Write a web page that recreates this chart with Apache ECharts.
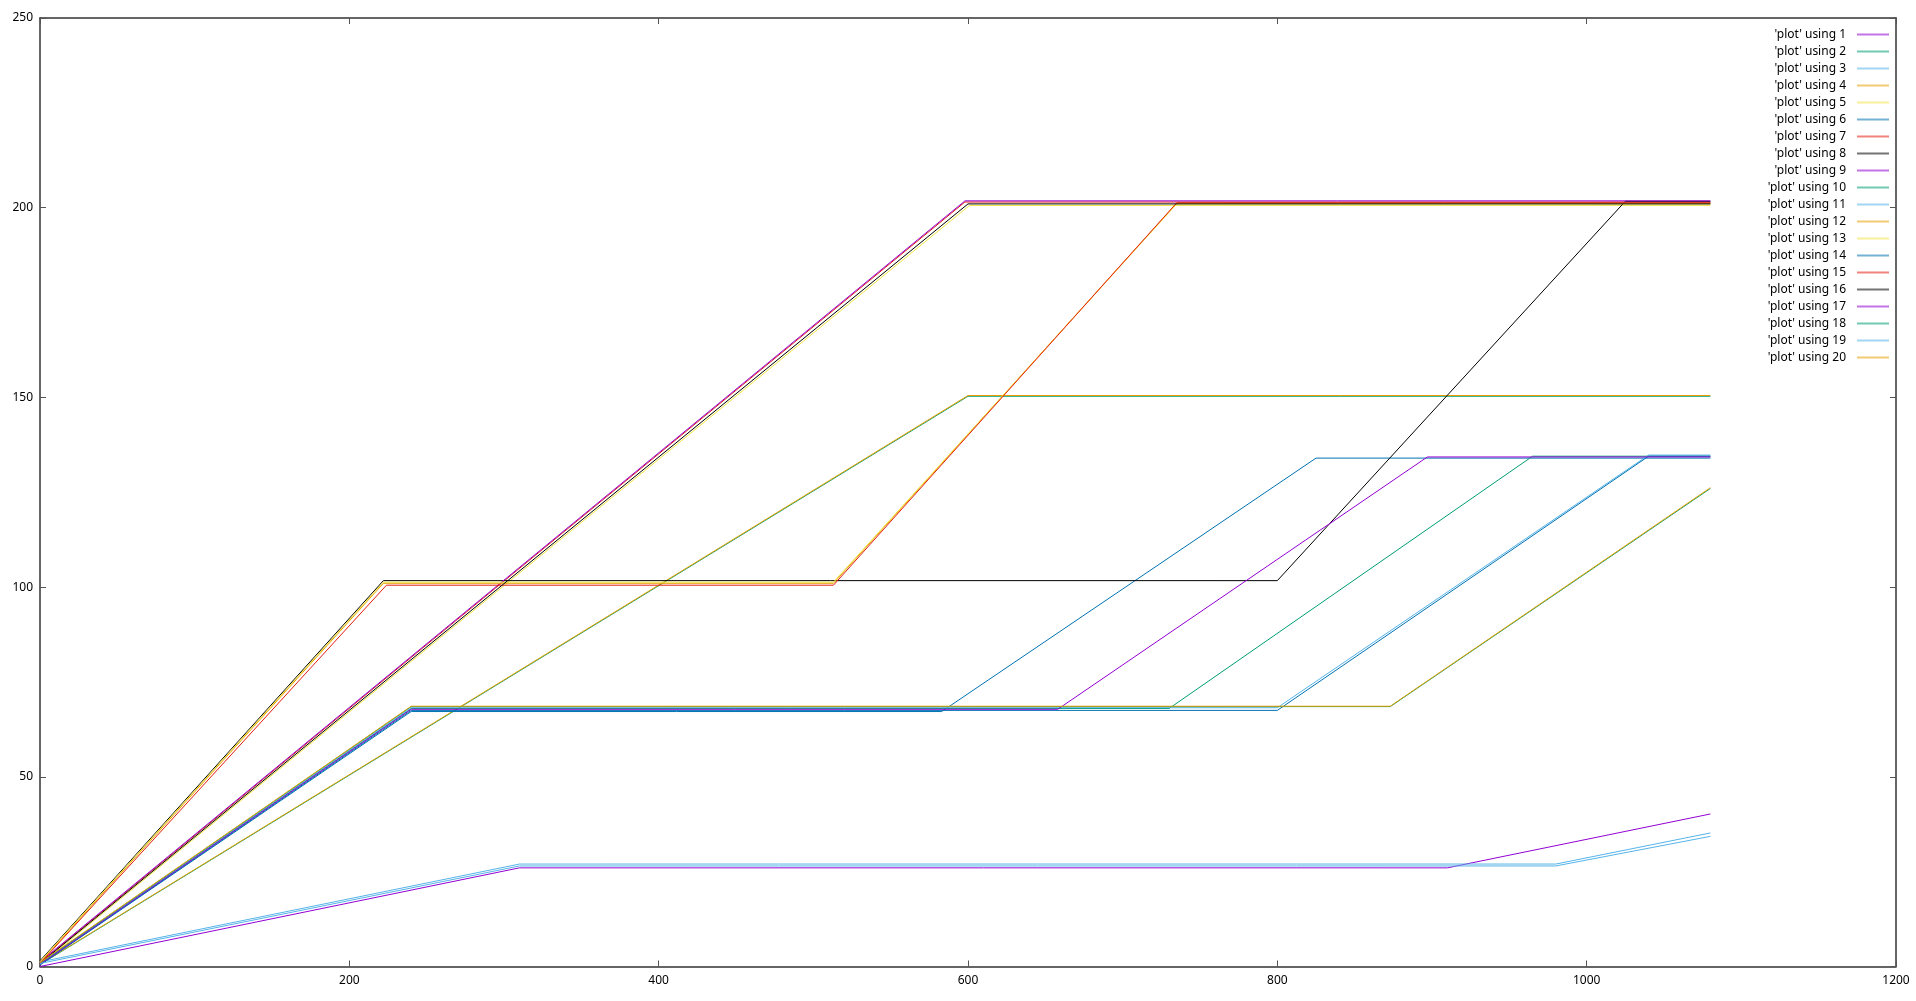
<!DOCTYPE html>
<html>
<head>
<meta charset="utf-8">
<script src="https://cdn.jsdelivr.net/npm/echarts@6/dist/echarts.min.js"></script>
<style>html,body{margin:0;padding:0;background:#fff;}#c{width:1916px;height:1001px;}</style>
</head>
<body>
<div id="c"></div>
<script>
// Tick settings
var xTicks = {min: 0, max: 1200, interval: 200};
var yTicks = {min: 0, max: 250, interval: 50};

// Series breakpoints [x, y]
var s1  = [[0,0.0],[310,26.0],[910,26.0],[1080,40.2]];
var s2  = [[0,0.5],[600,150.3],[1080,150.3]];
var s3  = [[0,1.2],[310,27.0],[980,27.0],[1080,35.2]];
var s4  = [[0,0.6],[600,150.5],[1080,150.5]];
var s5  = [[0,0.5],[601,200.6],[1080,200.6]];
var s6  = [[0,0.4],[240,67.2],[583,67.2],[825,134.0],[1080,134.0]];
var s7  = [[0,1.0],[598,201.5],[1080,201.5]];
var s8  = [[0,1.5],[222,101.7],[800,101.7],[1025,201.7],[1080,201.7]];
var s9  = [[0,1.2],[598,201.8],[1080,201.8]];
var s10 = [[0,0.7],[240,68.0],[730,68.0],[965,134.5],[1080,134.5]];
var s11 = [[0,0.8],[240,68.2],[800,68.2],[1040,134.8],[1080,134.8]];
var s12 = [[0,1.0],[222,101.0],[513,101.0],[735,201.2],[1080,201.2]];
var s13 = [[0,1.3],[222,101.3],[513,101.3],[735,201.0],[1080,201.0]];
var s14 = [[0,0.5],[240,67.5],[800,67.5],[1040,134.5],[1080,134.5]];
var s15 = [[0,0.8],[224,100.5],[513,100.5],[735,201.3],[1080,201.3]];
var s16 = [[0,0.8],[600,201.0],[1080,201.0]];
var s17 = [[0,0.6],[240,67.8],[658,67.8],[897,134.3],[1080,134.3]];
var s18 = [[0,0.9],[240,68.5],[873,68.5],[1080,126.0]];
var s19 = [[0,0.8],[310,26.5],[980,26.5],[1080,34.3]];
var s20 = [[0,1.0],[240,68.6],[873,68.6],[1080,126.2]];

var seriesData = [s1,s2,s3,s4,s5,s6,s7,s8,s9,s10,s11,s12,s13,s14,s15,s16,s17,s18,s19,s20];
var seriesNames = seriesData.map(function(_, i){ return "'plot' using " + (i + 1); });
var palette = ['#9400d3','#009e73','#56b4e9','#e69f00','#f0e442','#0072b2','#e51e10','#000000'];

var FONT = 'Noto Sans';
function axisCommon() {
  return {
    axisLine: {show: true, onZero: false, lineStyle: {color: '#333', width: 1.5}},
    axisTick: {show: true, inside: true, length: 6, lineStyle: {color: '#555', width: 1}},
    splitLine: {show: false}
  };
}

var series = seriesData.map(function(d, i){
  return {
    name: seriesNames[i],
    type: 'line',
    data: d,
    showSymbol: false,
    symbol: 'none',
    lineStyle: {width: 1, color: palette[i % 8]},
    itemStyle: {color: palette[i % 8]},
    animation: false,
    z: 2
  };
});

var chart = echarts.init(document.getElementById('c'), null, {renderer: 'canvas'});
chart.setOption({
  backgroundColor: '#fff',
  animation: false,
  color: palette,
  grid: {left: 40, right: 20, top: 18, bottom: 34.5, containLabel: false},
  legend: {
    orient: 'vertical',
    right: 22,
    top: 21,
    align: 'right',
    icon: 'rect',
    itemWidth: 32,
    itemHeight: 2,
    itemGap: 0,
    itemStyle: {opacity: 0.55},
    textStyle: {fontFamily: FONT, fontSize: 12, color: '#000', lineHeight: 17, padding: [0, 6, 0, 0]},
    data: seriesNames
  },
  xAxis: [
    Object.assign({type: 'value', position: 'bottom', min: xTicks.min, max: xTicks.max, interval: xTicks.interval,
      axisLabel: {show: true, margin: 8, color: '#000', fontFamily: FONT, fontSize: 12,
        formatter: function(v){ return String(v); }}}, axisCommon()),
    Object.assign({type: 'value', position: 'top', min: xTicks.min, max: xTicks.max, interval: xTicks.interval,
      axisLabel: {show: false}}, axisCommon())
  ],
  yAxis: [
    Object.assign({type: 'value', position: 'left', min: yTicks.min, max: yTicks.max, interval: yTicks.interval,
      axisLabel: {show: true, margin: 7, color: '#000', fontFamily: FONT, fontSize: 12,
        formatter: function(v){ return String(v); }}}, axisCommon()),
    Object.assign({type: 'value', position: 'right', min: yTicks.min, max: yTicks.max, interval: yTicks.interval,
      axisLabel: {show: false}}, axisCommon())
  ],
  series: series
});
</script>
</body>
</html>
